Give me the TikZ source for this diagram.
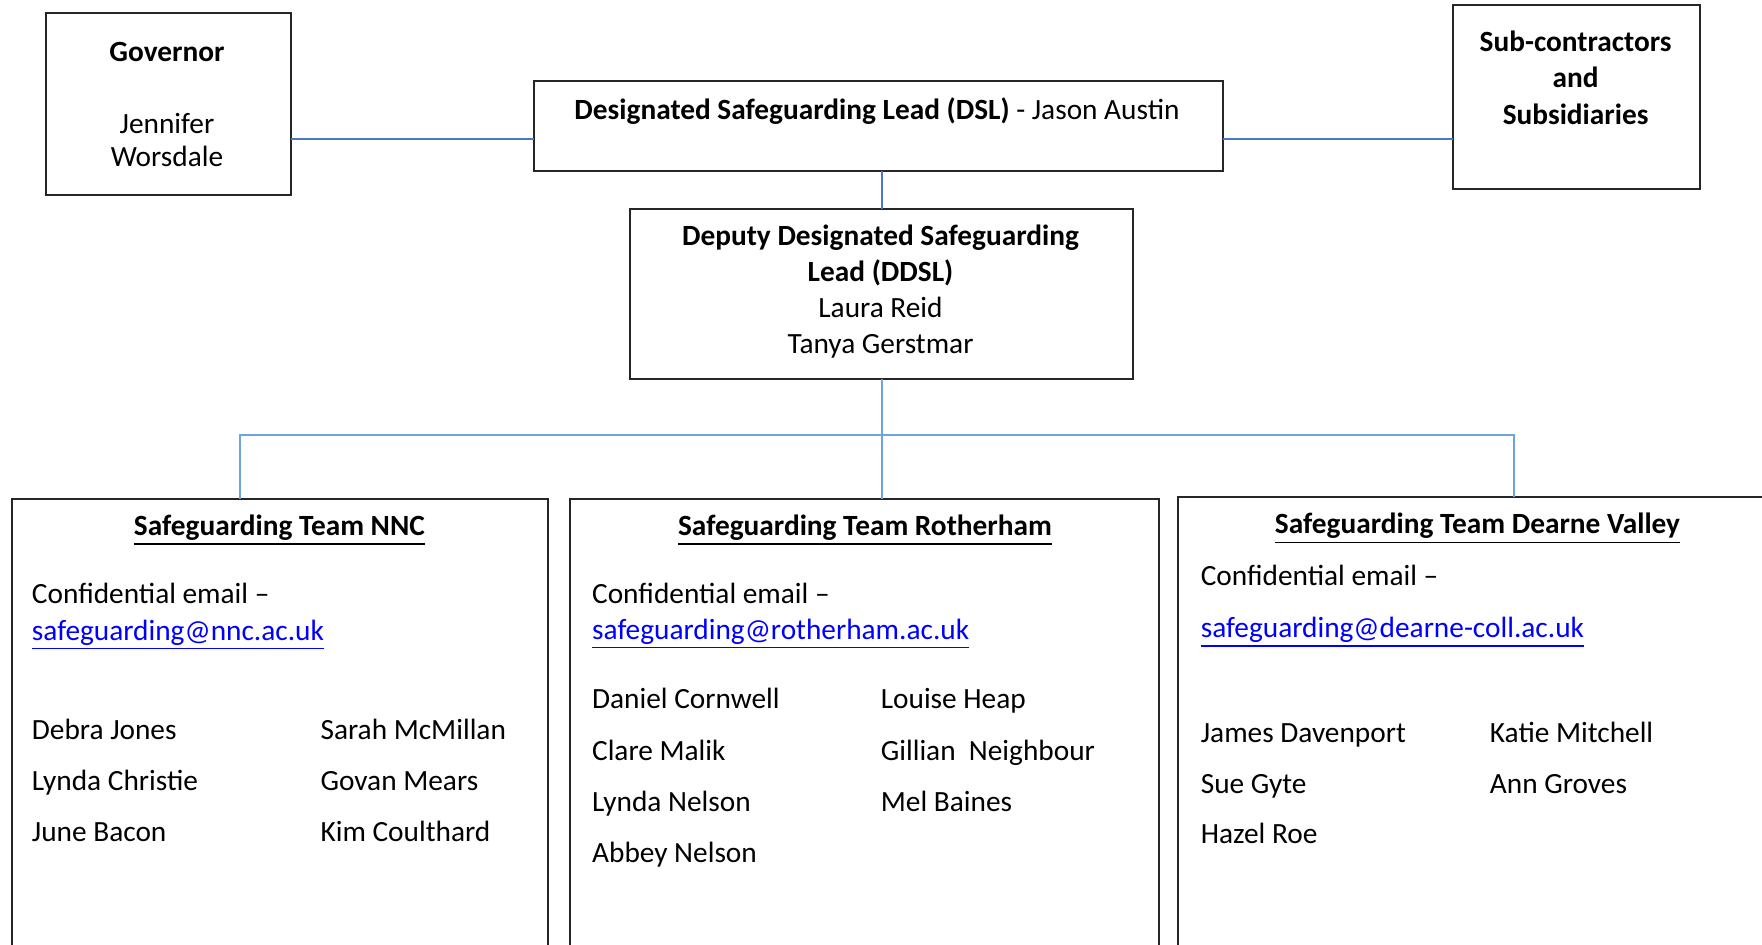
\documentclass[tikz,border=0pt]{standalone}
\usepackage{fontspec}
\setmainfont{Carlito}
\usetikzlibrary{fit}
\definecolor{cLine}{HTML}{4A78C8}
\definecolor{cBus}{HTML}{6FA3DC}
\definecolor{cMail}{HTML}{0000FF}
\newcommand{\maillink}[1]{\textcolor{cMail}{\underline{#1}}}

\begin{document}
\begin{tikzpicture}[
 x=0.375pt,y=-0.375pt,font=\fontsize{11}{13.4}\selectfont,
 line cap=rect,
 box/.style={draw=black!85,line width=.9pt,inner sep=0pt},
 wire/.style={draw=cLine,line width=.75pt},
 bus/.style={draw=cBus,line width=.75pt},
 txt/.style={anchor=base west,inner sep=0pt},
 mid/.style={anchor=base,inner sep=0pt},
 head/.style={mid,font=\fontsize{11}{13.4}\selectfont\bfseries}]
\path[use as bounding box] (0,0) rectangle (1762,944);
\clip (0,0) rectangle (1762,944);

% top row
\node[box,fit={(46,13) (291,195)}] (gov) {};
\node[box,fit={(534,81) (1223,171)}] (dsl) {};
\node[box,fit={(1453,5) (1700,189)}] (sub) {};
\node[box,fit={(630,209) (1133,379)}] (ddsl) {};

\node[head] (gov-t) at (167,61) {Governor};
\node[mid] (gov-a) at (167,133.3) {Jennifer};
\node[mid] (gov-b) at (167,166.7) {Worsdale};

\node[mid] (dsl-t) at (877,119.3)
  {\textbf{Designated Safeguarding Lead (DSL)} - Jason Austin};

\node[head] (sub-a) at (1575.6,51.7) {Sub-contractors};
\node[head] (sub-b) at (1575.6,87.3) {and};
\node[head] (sub-c) at (1575.6,124) {Subsidiaries};

\node[head] (ddsl-a) at (880.5,245) {Deputy Designated Safeguarding};
\node[head] (ddsl-b) at (880.5,281.7) {Lead (DDSL)};
\node[mid] (ddsl-c) at (880.5,317.7) {Laura Reid};
\node[mid] (ddsl-d) at (880.5,353.3) {Tanya Gerstmar};

% teams
\node[box,fit={(12,499) (548,1000)}] (nnc) {};
\node[box,fit={(570,499) (1159,1000)}] (rot) {};
\node[box,fit={(1178,497) (1800,1000)}] (dv) {};

% connectors
\coordinate (hub) at (0,139);
\draw[wire] (gov.east |- hub) -- (dsl.west |- hub);
\draw[wire] (dsl.east |- hub) -- (sub.west |- hub);
\draw[wire] (ddsl.north |- dsl.south) -- (ddsl.north);

\coordinate (busL) at (240,435);
\coordinate (busR) at (1514,435);
\draw[bus] (busL) -- (busR);
\draw[bus] (ddsl.south) -- (ddsl.south |- rot.north);
\draw[bus] (busL) -- (busL |- nnc.north);
\draw[bus] (busR) -- (busR |- dv.north);

% NNC
\node[head] (nnc-t) at (279.4,535.3) {\underline{Safeguarding Team NNC}};
\node[txt] (nnc-c) at (31.4,603.8) {Confidential email --};
\node[txt] (nnc-m) at (31.4,640) {\maillink{safeguarding@nnc.ac.uk}};
\foreach \yy/\na/\nb [count=\k] in {739.2/Debra Jones/Sarah McMillan,
    790.3/Lynda Christie/Govan Mears,841.8/June Bacon/Kim Coulthard} {
  \node[txt] (nnc-a\k) at (31.4,\yy) {\na};
  \node[txt] (nnc-b\k) at (320,\yy) {\nb};
}

% Rotherham
\node[head] (rot-t) at (865,535.3) {\underline{Safeguarding Team Rotherham}};
\node[txt] (rot-c) at (591.6,603.8) {Confidential email --};
\node[txt] (rot-m) at (591.6,639) {\maillink{safeguarding@rotherham.ac.uk}};
\foreach \yy/\na/\nb [count=\k] in {708/Daniel Cornwell/Louise Heap,
    760.2/Clare Malik/Gillian~~Neighbour,811.7/Lynda Nelson/Mel Baines} {
  \node[txt] (rot-a\k) at (591.6,\yy) {\na};
  \node[txt] (rot-b\k) at (880.3,\yy) {\nb};
}
\node[txt] (rot-a4) at (591.6,862.8) {Abbey Nelson};

% Dearne Valley
\node[head] (dv-t) at (1477.5,533.6) {\underline{Safeguarding Team Dearne Valley}};
\node[txt] (dv-c) at (1200.3,585.4) {Confidential email --};
\node[txt] (dv-m) at (1200.3,637.2) {\maillink{safeguarding@dearne-coll.ac.uk}};
\foreach \yy/\na/\nb [count=\k] in {742.5/James Davenport/Katie Mitchell,
    793.7/Sue Gyte/Ann Groves} {
  \node[txt] (dv-a\k) at (1200.3,\yy) {\na};
  \node[txt] (dv-b\k) at (1489.4,\yy) {\nb};
}
\node[txt] (dv-a3) at (1200.3,843.8) {Hazel Roe};
\end{tikzpicture}
\end{document}
